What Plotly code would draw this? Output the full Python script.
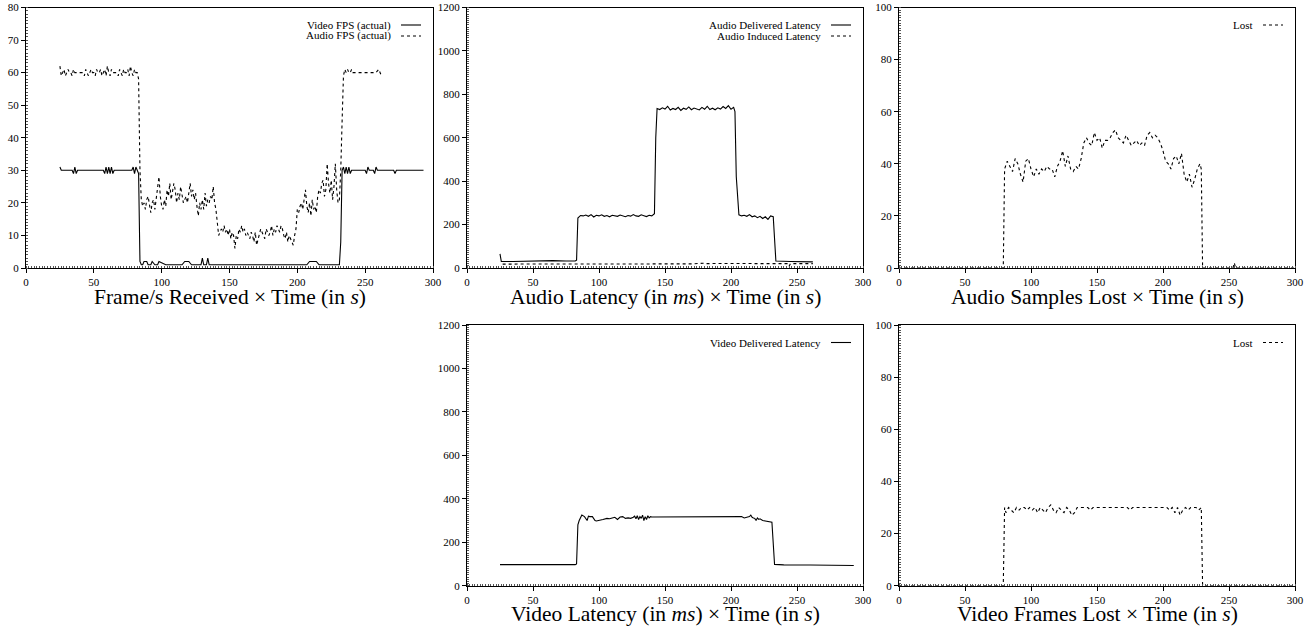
import plotly.graph_objects as go

# ---------------- data ----------------
# Panel 1: Frame/s received
video_fps_t = [25, 26, 34, 35, 36, 37, 38, 57, 58, 59, 60, 61, 62, 63, 64, 65, 78, 79, 80, 81, 82, 83,
               84, 85, 86, 87, 89, 90, 92, 93, 95, 97, 98, 100, 103, 115, 117, 120, 122, 129, 130, 131, 133,
               134, 135, 207, 209, 214, 216, 231, 232, 233,
               234, 235, 236, 237, 238, 239, 240, 241, 250, 251, 252, 253, 256, 257, 258, 259, 271, 272, 273, 293]
video_fps_v = [31, 30, 30, 29, 31, 29, 30, 30, 29, 31, 29, 31, 29, 31, 29, 30, 30, 31, 29, 31, 30, 29,
               2, 1, 1, 2, 2, 1, 1, 2, 1, 1, 2, 1.6, 1, 1, 2, 2, 1, 1, 3, 1, 1,
               3, 1, 1, 2, 2, 1, 1, 8, 30,
               31, 29, 31, 29, 31, 29, 30, 30, 30, 29, 31, 30, 30, 29, 31, 30, 30, 29, 30, 30]

audio_fps_t_early = list(range(25, 84))
audio_fps_v_early = [62, 59, 60, 61, 59, 60, 61, 60, 60, 59,
                     61, 60, 60, 60, 60, 60, 60, 60, 59, 61,
                     60, 59, 60, 61, 60, 60, 59, 61, 60, 60,
                     61, 59, 60, 61, 59, 62, 60, 59, 61, 60,
                     60, 60, 60, 59, 61, 60, 59, 61, 60, 60,
                     61, 59, 62, 60, 59, 61, 60, 60, 58]
audio_fps_t_mid = list(range(84, 232))
audio_fps_v_mid = [30, 21, 19, 20, 18, 21, 22, 19, 17, 20,
                   21, 18, 22, 24, 28, 22, 19, 18, 21, 19,
                   24, 22, 26, 21, 23, 26, 24, 20, 23, 21,
                   25, 22, 20, 21, 22, 20, 23, 26, 22, 24,
                   21, 23, 19, 16, 20, 18, 21, 18, 23, 19,
                   21, 20, 22, 21, 25, 20, 18, 13, 10, 11,
                   12, 11, 13, 11, 12, 10, 12, 9, 11, 10,
                   6, 10, 9, 12, 11, 13, 11, 12, 10, 11,
                   10, 9, 11, 10, 8, 11, 7, 9, 10, 12,
                   11, 10, 9, 12, 11, 10, 11, 13, 10, 12,
                   11, 13, 12, 11, 13, 12, 10, 9, 11, 8,
                   10, 9, 8, 7, 10, 12, 18, 17, 19, 20,
                   18, 21, 24, 19, 17, 20, 16, 21, 18, 19,
                   17, 22, 24, 23, 26, 27, 22, 24, 32, 26,
                   23, 27, 21, 25, 32, 24, 20, 21]
audio_fps_t_late = [232, 233, 234, 235, 236, 237, 238, 239, 240, 241, 242, 250, 258, 260, 261, 262]
audio_fps_v_late = [30, 45, 59, 61, 60, 61, 60, 60, 61, 60, 60, 60, 60, 61, 60, 59]

# Panel 2: Audio latency
adl_t = [25, 26, 35, 45, 55, 65, 75, 82, 83, 84,
         86, 88, 90, 92, 94, 96, 98, 100, 102, 104,
         106, 108, 110, 112, 114, 116, 118, 120, 122, 124,
         126, 128, 130, 132, 134, 136, 138, 140, 142, 143,
         144, 146, 148, 150, 152, 154, 156, 158, 160, 162,
         164, 166, 168, 170, 172, 174, 176, 178, 180, 182,
         184, 186, 188, 190, 192, 194, 196, 198, 200, 202,
         203, 204, 206, 208, 210, 212, 214, 216, 218, 220,
         222, 224, 226, 228, 230, 232, 233, 234, 245, 262]
adl_v = [65, 30, 30, 32, 33, 34, 32, 32, 36, 230,
         242, 240, 244, 238, 246, 235, 243, 240, 245, 238,
         242, 236, 243, 240, 238, 244, 240, 236, 242, 239,
         246, 240, 238, 245, 241, 237, 243, 240, 250, 600,
         735, 730, 738, 732, 745, 728, 735, 730, 740, 726,
         736, 731, 742, 729, 737, 733, 728, 740, 731, 745,
         730, 736, 729, 738, 732, 744, 735, 748, 731, 740,
         720, 420, 245, 240, 243, 238, 246, 236, 240, 232,
         238, 228, 236, 224, 240, 236, 120, 32, 30, 28]
ail_t = [27, 60, 100, 140, 170, 180, 181, 190, 200, 230, 234, 240, 243, 244, 245, 262]
ail_v = [18, 18, 20, 20, 19, 22, 20, 21, 20, 19, 20, 20, 20, 8, 20, 20]

# Panel 3: Audio samples lost
asl_t = [0, 79] + list(range(80, 230, 2)) + [229, 230, 253, 254, 255, 300]
asl_v = [0, 0,
         38, 41, 39, 37, 42, 40, 36, 33, 41, 42,
         38, 35, 38, 36, 38, 37, 39, 38, 38, 35,
         39, 41, 45, 39, 43, 38, 37, 39, 38, 42,
         48, 50, 48, 47, 52, 49, 50, 46, 49, 49,
         50, 52, 53, 50, 49, 48, 51, 49, 47, 48,
         49, 47, 48, 47, 51, 52, 50, 51, 50, 48,
         45, 41, 40, 38, 42, 43, 40, 44, 36, 33,
         36, 31, 34, 38, 40,
         38, 0, 0, 2, 0, 0]

# Panel 4: Video latency
vdl_t = [25, 50, 70, 82, 83, 84, 85, 86, 87, 89,
         90, 91, 92, 93, 95, 97, 98, 100, 103, 106,
         108, 110, 112, 114, 116, 118, 120, 122, 124, 126,
         127, 128, 129, 130, 131, 132, 133, 134, 135, 136,
         137, 138, 139, 140, 180, 206, 208, 210, 212, 214,
         215, 216, 217, 218, 219, 220, 221, 222, 224, 231,
         233, 240, 260, 293]
vdl_v = [97, 96, 97, 97, 100, 280, 300, 315, 325, 318,
         310, 300, 320, 318, 318, 300, 298, 302, 305, 310,
         308, 312, 315, 305, 316, 318, 310, 312, 310, 315,
         320, 308, 322, 305, 318, 310, 325, 300, 318, 305,
         322, 312, 318, 316, 318, 320, 318, 312, 315, 318,
         325, 315, 312, 310, 300, 312, 305, 308, 300, 292,
         98, 96, 95, 93]

# Panel 5: Video frames lost
vfl_t = [0, 79, 80] + list(range(81, 230, 2)) + [230, 300]
vfl_v = [0, 0, 30,
         28, 30, 29, 28, 30, 29, 30, 30, 29, 30,
         29, 30, 28, 30, 29, 28, 30, 31, 29, 28,
         30, 29, 28, 30, 29, 27, 28, 30, 30, 30,
         30, 30, 29, 30, 30, 30, 30, 30, 30, 30,
         30, 30, 30, 30, 30, 30, 30, 29, 30, 30,
         30, 30, 30, 30, 30, 30, 30, 30, 30, 30,
         30, 30, 29, 30, 28, 30, 27, 29, 30, 29,
         30, 30, 30, 29, 30,
         0, 0]

titles = ["Frame/s Received × Time (in <i>s</i>)",
          "Audio Latency (in <i>ms</i>) × Time (in <i>s</i>)",
          "Audio Samples Lost × Time (in <i>s</i>)",
          "Video Latency (in <i>ms</i>) × Time (in <i>s</i>)",
          "Video Frames Lost × Time (in <i>s</i>)"]

# ---------------- layout helpers ----------------
W, H = 1315, 628
FONT = "Liberation Serif"

def px(x):
    return x / W

def py(y):
    return 1 - y / H

# pixel boxes in window coordinates: (left, right, top, bottom)
boxes = [(26, 433, 7.5, 268), (467, 863, 7.5, 268), (899, 1295, 7.5, 268),
         (467, 863, 325, 585.7), (899, 1295, 325, 585.7)]
yranges = [(0, 80, 10, 1), (0, 1200, 200, 10), (0, 100, 20, 1), (0, 1200, 200, 10), (0, 100, 20, 1)]

fig = go.Figure()

def add(idx, t, v, dash):
    sfx = "" if idx == 0 else str(idx + 1)
    fig.add_trace(go.Scatter(x=t, y=v, mode="lines", xaxis="x" + sfx, yaxis="y" + sfx,
                             line=dict(color="black", width=1.1, dash=dash, shape="linear"),
                             showlegend=False, hoverinfo="skip"))

add(0, video_fps_t, video_fps_v, "solid")
add(0, audio_fps_t_early + audio_fps_t_mid + audio_fps_t_late,
    audio_fps_v_early + audio_fps_v_mid + audio_fps_v_late, "dot")
add(1, adl_t, adl_v, "solid")
add(1, ail_t, ail_v, "dot")
add(2, asl_t, asl_v, "dot")
add(3, vdl_t, vdl_v, "solid")
add(4, vfl_t, vfl_v, "dot")

layout = dict(width=W, height=H, margin=dict(l=0, r=0, t=0, b=0, autoexpand=False),
              paper_bgcolor="white", plot_bgcolor="white",
              font=dict(family=FONT, color="black", size=11), showlegend=False)

annotations = []
shapes = []
for i, (l, r, t, b) in enumerate(boxes):
    sfx = "" if i == 0 else str(i + 1)
    y0, y1, dt, mdt = yranges[i]
    layout["xaxis" + sfx] = dict(domain=[px(l), px(r)], range=[0, 300], dtick=50, tick0=0,
                                 anchor="y" + sfx, showgrid=False, zeroline=False, automargin=False,
                                 showline=True, linecolor="black", linewidth=1, mirror=True,
                                 ticks="outside", ticklen=4, tickcolor="black",
                                 tickfont=dict(family=FONT, size=11, color="black"),
                                 minor=dict(ticks="inside", dtick=2, ticklen=2, tickcolor="#555"),
                                 fixedrange=True)
    layout["yaxis" + sfx] = dict(domain=[py(b), py(t)], range=[y0, y1], dtick=dt, tick0=0,
                                 anchor="x" + sfx, showgrid=False, zeroline=False, automargin=False,
                                 showline=True, linecolor="black", linewidth=1, mirror=True,
                                 ticks="outside", ticklen=4, tickcolor="black",
                                 tickfont=dict(family=FONT, size=11, color="black"),
                                 minor=dict(ticks="inside", dtick=mdt, ticklen=2, tickcolor="#555"),
                                 fixedrange=True)
    annotations.append(dict(text=titles[i], x=px((l + r) / 2), y=py(b + 28.5), xref="paper",
                            yref="paper", xanchor="center", yanchor="middle", showarrow=False,
                            font=dict(family=FONT, size=21.5, color="black")))

legends = [
    (0, [("Video FPS (actual)", "solid"), ("Audio FPS (actual)", "dot")]),
    (1, [("Audio Delivered Latency", "solid"), ("Audio Induced Latency", "dot")]),
    (2, [("Lost", "dot")]),
    (3, [("Video Delivered Latency", "solid")]),
    (4, [("Lost", "dot")]),
]
for i, items in legends:
    l, r, t, b = boxes[i]
    for k, (lab, dash) in enumerate(items):
        yy = t + 17.5 + 11 * k
        annotations.append(dict(text=lab, x=px(r - 40), y=py(yy), xref="paper", yref="paper",
                                xanchor="right", yanchor="middle", showarrow=False,
                                font=dict(family=FONT, size=11, color="black")))
        shapes.append(dict(type="line", xref="paper", yref="paper", x0=px(r - 32), x1=px(r - 12),
                           y0=py(yy), y1=py(yy), line=dict(color="black", width=1.1, dash=dash)))

layout["annotations"] = annotations
layout["shapes"] = shapes
fig.update_layout(**layout)
fig.write_html("out.html", config={"displayModeBar": False},
               post_script="document.body.style.margin='0';document.body.style.overflow='hidden';")
